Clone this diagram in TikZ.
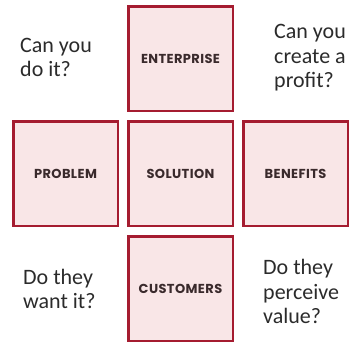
\documentclass[tikz,border=0pt]{standalone}
\usepackage{fontspec}
\setmainfont{Carlito}
\newfontfamily\labelfont[LetterSpace=3]{Poppins}
\usetikzlibrary{positioning}
\definecolor{boxred}{HTML}{A51C30}
\definecolor{boxpink}{HTML}{F9E6E7}
\definecolor{labeltext}{HTML}{3A2A2C}
\definecolor{asktext}{HTML}{2B2B2B}

\begin{document}
\begin{tikzpicture}[x=1pt, y=1pt,
    box/.style={draw=boxred, fill=boxpink, line width=2.5pt,
                minimum size=104.5pt, inner sep=0pt,
                text=labeltext, font=\labelfont\bfseries\fontsize{13}{14}\selectfont},
    question/.style={anchor=base west, align=left, inner sep=0pt,
                     text=asktext, font=\fontsize{22}{24.5}\selectfont},
    node distance=8pt]
    \useasboundingbox (0,0) rectangle (350,344);
    % Add the boxes
    \node[box] (solution) at (180.5,170) {SOLUTION};
    \node[box, above=of solution] (enterprise) {ENTERPRISE};
    \node[box, below=of solution] (customers) {CUSTOMERS};
    \node[box, left=of solution] (problem) {PROBLEM};
    \node[box, right=of solution] (benefits) {BENEFITS};
    % Add the questions (anchored on the last line)
    \node[question] (doit) at (20,267) {Can you\\do it?};
    \node[question] (profit) at (274,256) {Can you\\create a\\profit?};
    \node[question] (want) at (23,35) {Do they\\want it?};
    \node[question] (value) at (263,20) {Do they\\perceive\\value?};
\end{tikzpicture}
\end{document}
